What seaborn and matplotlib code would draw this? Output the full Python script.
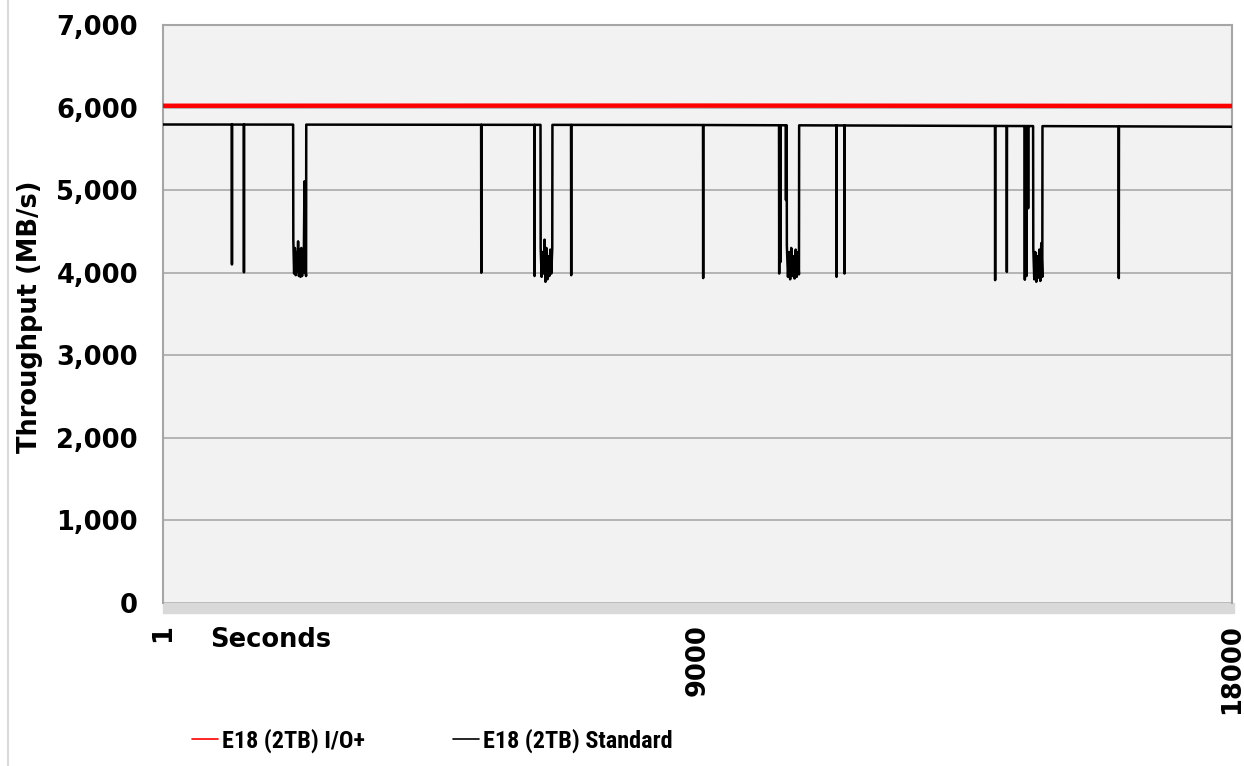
"""Sustained write throughput over time: E18 (2TB) I/O+ vs Standard."""

import numpy as np
import pandas as pd
import seaborn as sns
import matplotlib.pyplot as plt
from matplotlib.lines import Line2D
from matplotlib.patches import Rectangle

# ---- data ----------------------------------------------------------------
io_plus_sec = [1, 9000, 18000]
io_plus_mbps = [6022, 6024, 6020]

std_base_sec = [1, 9000, 18000]
std_base_mbps = [5795, 5789, 5768]

# isolated drops: second, lowest MB/s
drop_sec = [1162, 1364, 5360, 6257, 6874, 9096, 10376, 10399, 10490,
            11341, 11476, 14012, 14209, 14512, 14540, 14568, 16094]
drop_mbps = [4100, 4005, 4000, 3960, 3970, 3935, 3990, 4130, 4880,
             3950, 3990, 3910, 4010, 3915, 3960, 4780, 3935]

# noisy bursts: start/end second and the MB/s samples inside them
burst_start = [2195, 6360, 10505, 14654]
burst_end = [2410, 6555, 10709, 14806]
burst_mbps = [
    [4400, 3990, 4300, 3970, 4250, 4010, 4380, 3960, 4280, 3950, 4300,
     3960, 4200, 4000, 5107, 4050, 3960],
    [4300, 3950, 4250, 3990, 4400, 3890, 4300, 3920, 4200, 3960, 4280,
     3990, 4300],
    [4330, 3950, 4250, 3920, 4300, 3960, 4200, 3930, 4280, 3950, 4250,
     3980],
    [4300, 3920, 4250, 3890, 4200, 3940, 4280, 3900, 4360, 3950],
]

io_label = "E18 (2TB) I/O+"
std_label = "E18 (2TB) Standard"


def standard_series():
    pts = list(zip(std_base_sec, std_base_mbps))
    for s, v in zip(drop_sec, drop_mbps):
        b = np.interp([s - 3, s + 3], std_base_sec, std_base_mbps)
        pts += [(s - 3, b[0]), (s, v), (s + 3, b[1])]
    for a, e, vals in zip(burst_start, burst_end, burst_mbps):
        b = np.interp([a - 3, e + 3], std_base_sec, std_base_mbps)
        xs = np.linspace(a, e, len(vals))
        pts += [(a - 3, b[0])] + list(zip(xs, vals)) + [(e + 3, b[1])]
    pts.sort(key=lambda p: p[0])
    return pd.DataFrame(pts, columns=["sec", "mbps"])


io_df = pd.DataFrame({"sec": io_plus_sec, "mbps": io_plus_mbps})
std_df = standard_series()

# ---- style -----------------------------------------------------------------
sns.set_theme(style="white", rc={
    "text.color": "black", "axes.labelcolor": "black",
    "xtick.color": "black", "ytick.color": "black",
})
plt.rcParams["font.family"] = ["DejaVu Sans"]
plt.rcParams["font.weight"] = "bold"

W, H = 1244, 766
fig = plt.figure(figsize=(W / 100, H / 100), dpi=100)
ax = fig.add_axes([163 / W, 1 - 603 / H, (1232 - 163) / W, (603 - 25) / H])
ax.set_facecolor("#F2F2F2")

sns.lineplot(data=std_df, x="sec", y="mbps", ax=ax, color="black", lw=1.8,
             estimator=None, sort=False, zorder=3)
sns.lineplot(data=io_df, x="sec", y="mbps", ax=ax, color="#FF0000", lw=3.2,
             estimator=None, sort=False, zorder=4)

ax.set_xlim(1, 18000)
ax.set_ylim(0, 7000)
ax.set_yticks(range(0, 7001, 1000))
ax.set_yticklabels([f"{v:,}" for v in range(0, 7001, 1000)])
ax.set_xticks([1, 9000, 18000])
ax.set_xticklabels(["1", "9000", "18000"], rotation=90)
ax.tick_params(axis="both", length=0, labelsize=18.5, labelcolor="black")
ax.tick_params(axis="y", pad=18)
ax.tick_params(axis="x", pad=15)
for t in ax.get_xticklabels() + ax.get_yticklabels():
    t.set_fontweight("bold")

ax.yaxis.grid(True, color="#B4B4B4", lw=1.4)
ax.xaxis.grid(False)
ax.set_axisbelow(True)
for side in ["left", "top", "right"]:
    ax.spines[side].set_color("#A6A6A6")
    ax.spines[side].set_linewidth(1.5)
ax.spines["bottom"].set_visible(False)
ax.set_xlabel("")
ax.set_ylabel("")

# floor strip under the plot area
floor = Rectangle((0, -10 / (603 - 25)), 1.002, 10 / (603 - 25),
                  transform=ax.transAxes, color="#D9D9D9", clip_on=False,
                  zorder=1)
ax.add_patch(floor)

# chart-area left border
fig.add_artist(Line2D([8 / W, 8 / W], [0, 1], color="#D9D9D9", lw=1.5))

fig.text(30 / W, 1 - 317 / H, "Throughput (MB/s)", rotation=90,
         ha="center", va="center", fontsize=18.5, fontweight="bold",
         color="black")
fig.text(210 / W, 1 - 640 / H, "Seconds", ha="left", va="center",
         fontsize=18.5, fontweight="bold", color="black")

leg_font = {"family": ["Roboto Condensed", "Liberation Sans"],
            "weight": "bold", "size": 17.5}
for color, lab, x0 in [("#FF0000", io_label, 192), ("black", std_label, 453)]:
    fig.legend([Line2D([], [], color=color, lw=1.2)], [lab],
               loc="center left", bbox_to_anchor=(x0 / W, 1 - 741 / H),
               frameon=False, borderpad=0, borderaxespad=0,
               handlelength=1.05, handletextpad=0.2, prop=leg_font,
               labelcolor="black")

fig.savefig("out.png", dpi=100)
